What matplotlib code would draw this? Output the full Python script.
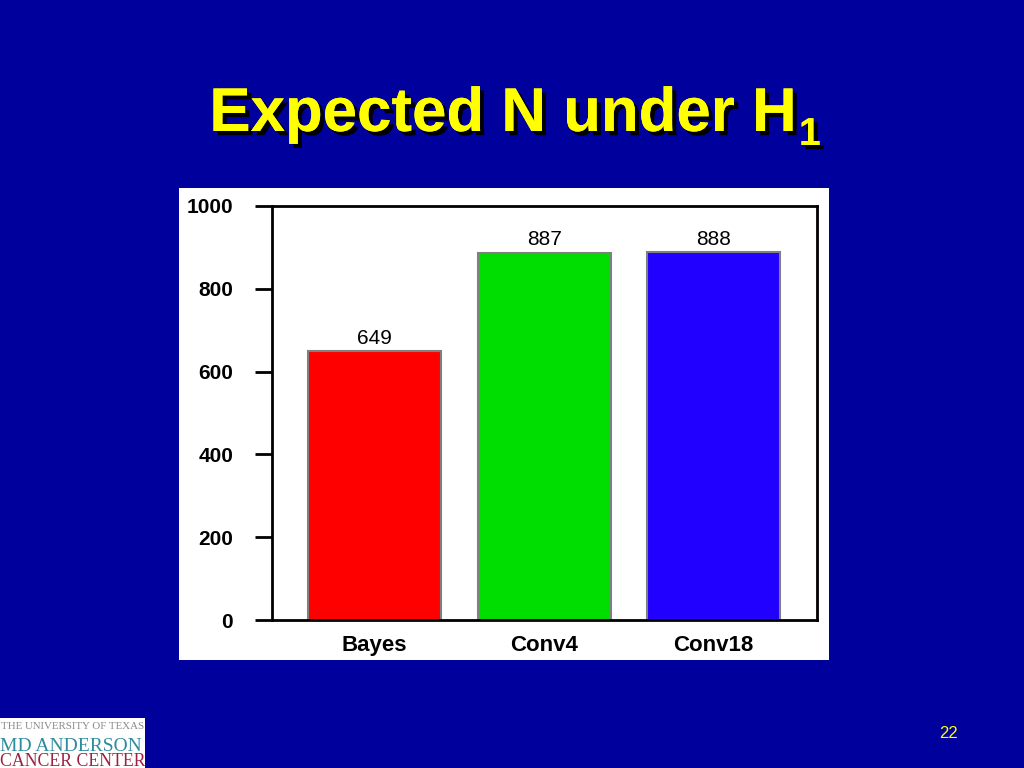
import numpy as np
import matplotlib.pyplot as plt
import matplotlib.patheffects as pe
from matplotlib.patches import Rectangle

# data
designs = ['Bayes', 'Conv4', 'Conv18']
expected_n = [649, 887, 888]
bar_colors = ['#FF0000', '#00DD00', '#2200FF']
yticks = [0, 200, 400, 600, 800, 1000]

W, H = 1024, 768
navy = '#00009C'

fig = plt.figure(figsize=(W / 100, H / 100), dpi=100)
fig.patch.set_facecolor(navy)

def fx(px):
    return px / W

def fy(py):
    return 1 - py / H

# white panel behind the chart
fig.add_artist(Rectangle((fx(179), fy(660)), fx(829) - fx(179), fy(188) - fy(660),
                         transform=fig.transFigure, facecolor='white', edgecolor='none', zorder=0))

# title with drop shadow
title_font = ['Liberation Sans', 'DejaVu Sans']
shadow = [pe.withSimplePatchShadow(offset=(3, -3), shadow_rgbFace='black', alpha=1.0), pe.Normal()]
fig.text(fx(796), fy(131), 'Expected N under H', color='#FFFF00', fontsize=44.5,
         fontweight='bold', family=title_font, ha='right', va='baseline',
         path_effects=shadow)
fig.text(fx(799), fy(145), '1', color='#FFFF00', fontsize=28,
         fontweight='bold', family=title_font, ha='left', va='baseline',
         path_effects=shadow)

# chart axes
ax = fig.add_axes([fx(272), fy(620), fx(817) - fx(272), fy(206) - fy(620)])
ax.set_facecolor('white')
x = np.arange(len(designs))
ax.bar(x, expected_n, width=0.785, color=bar_colors, edgecolor='#808080', linewidth=1.5, zorder=2)
for xi, v in zip(x, expected_n):
    ax.text(xi, v + 8, str(v), ha='center', va='bottom', fontsize=15,
            family='Liberation Sans', color='black')

ax.set_xlim(-0.605, 2.61)
ax.set_ylim(0, 1000)
ax.set_yticks(yticks)
ax.set_yticklabels([str(v) for v in yticks], fontsize=15, fontweight='bold', family='Liberation Sans')
ax.set_xticks(x)
ax.set_xticklabels(designs, fontsize=16, fontweight='bold', family='Liberation Sans')
ax.tick_params(axis='y', length=12, width=2, direction='out', pad=16)
ax.tick_params(axis='x', length=0, pad=11)
for s in ax.spines.values():
    s.set_linewidth(2)
    s.set_color('black')

# logo block
fig.add_artist(Rectangle((0, 0), fx(145), fy(718), transform=fig.transFigure,
                         facecolor='white', edgecolor='none'))
fig.text(fx(1), fy(729), 'THE UNIVERSITY OF TEXAS', fontsize=7.8, color='#8A8A8A',
         family='Liberation Serif', ha='left', va='baseline')
fig.text(fx(0), fy(751), 'MD ANDERSON', fontsize=14, color='#2E8C9E',
         family='Liberation Serif', ha='left', va='baseline')
fig.text(fx(0), fy(766), 'CANCER CENTER', fontsize=12.8, color='#9B2245',
         family='Liberation Serif', ha='left', va='baseline')

# slide number
fig.text(fx(949), fy(733), '22', fontsize=12, color='#FFFF00', family='Liberation Sans',
         ha='center', va='center')

fig.savefig('out.png', dpi=100, facecolor=navy)
